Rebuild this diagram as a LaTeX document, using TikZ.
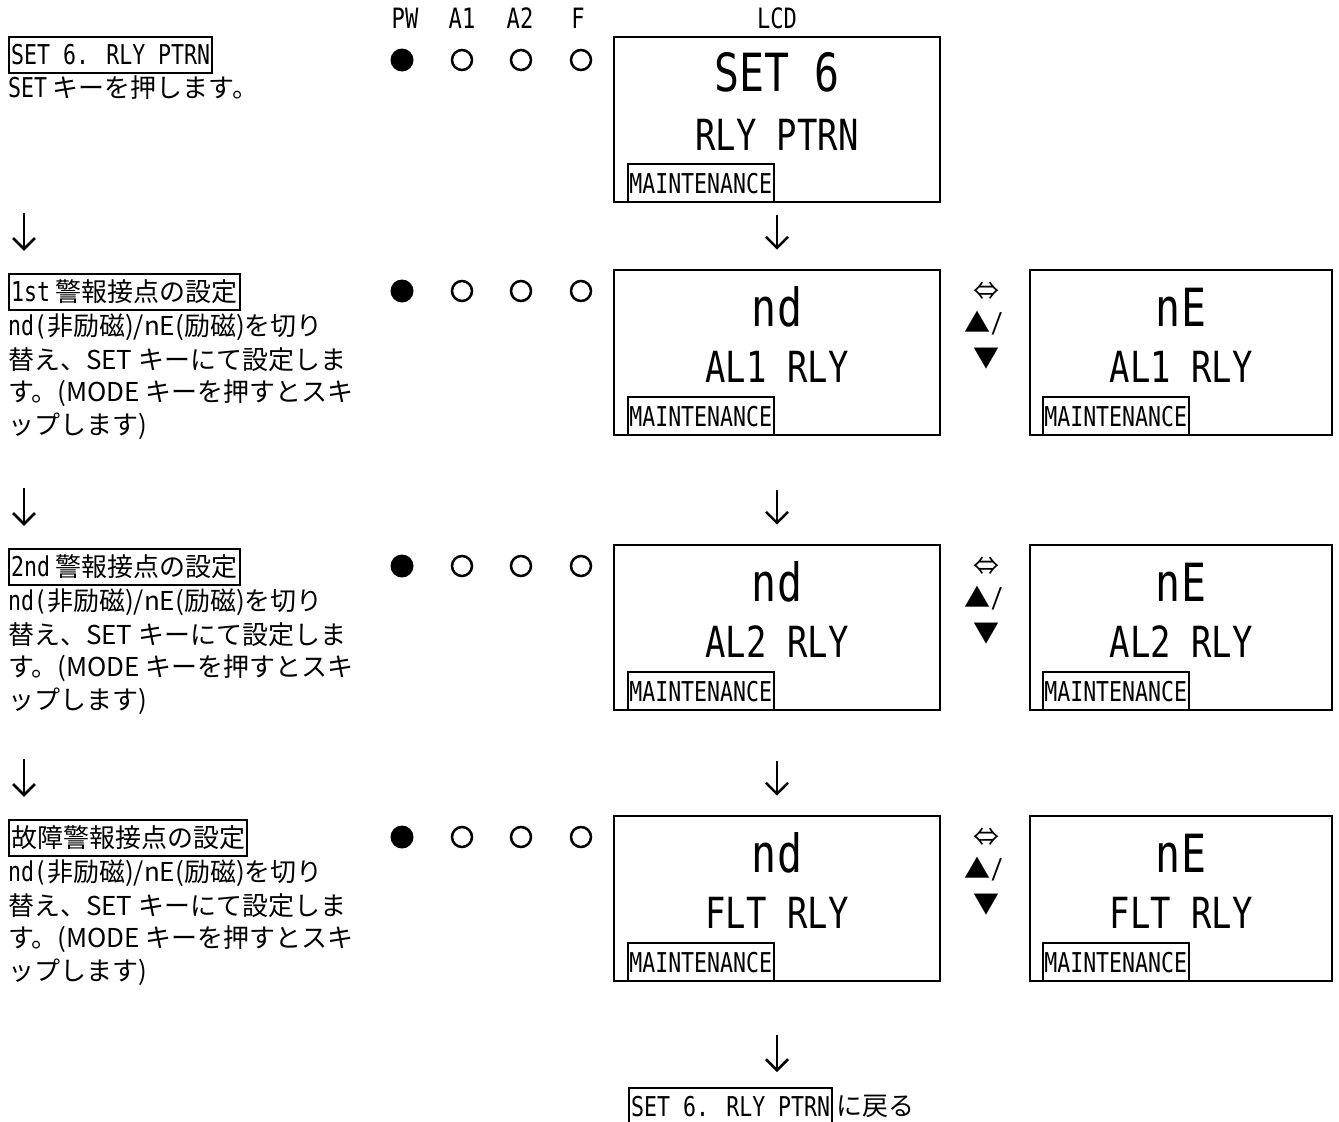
\documentclass[tikz,border=0pt]{standalone}
\usepackage{fontspec}
\setmainfont{DejaVu Sans Mono}[FakeStretch=0.79]
\newfontfamily\jp{Noto Sans CJK JP}[Scale=0.952]
\usetikzlibrary{arrows.meta,positioning,calc}

\begin{document}
\begin{tikzpicture}[x=1pt,y=-1pt,
  every node/.style={inner sep=0pt,font=\fontsize{27.3}{30}\selectfont},
  hdr/.style={font=\fontsize{28}{30}\selectfont},
  txt/.style={anchor=west},
  lbl/.style={draw,line width=2.2pt,anchor=west,inner xsep=2pt,minimum height=36pt},
  lcd/.style={draw,line width=2.6pt,minimum height=165pt},
  big/.style={font=\fontsize{52.6}{56}\selectfont},
  mid/.style={font=\fontsize{42.9}{46}\selectfont},
  tag/.style={draw,line width=2.2pt,anchor=south west,inner xsep=1.5pt,minimum height=38pt},
  arr/.style={line width=2.6pt,-{Straight Barb[length=11pt,width=22pt]}},
  ledon/.style={fill=black},
  ledoff/.style={draw=black,line width=2.5pt}]
\useasboundingbox (0,0) rectangle (1339,1122);

% lamps and LCD header
\foreach \x/\t in {405/PW,462/A1,520/A2,578/F,777/LCD}
  \node[hdr] (h\t) at (\x,18) {\t};

% SET 6 screen
\node[lbl] (lab1) at (8,55) {SET 6. RLY PTRN};
\node[txt] (t1-1) at (8,88) {SET\jp{ キーを押します。}};
\fill[ledon] (402,60) circle[radius=11.5pt];
\foreach \x in {462,521,581} \draw[ledoff] (\x,60) circle[radius=10pt];
\node[lcd,minimum width=326pt] (lcd1) at (777,119.5) {};
\node[big] (v1) at (777,72) {SET 6};
\node[mid] (n1) at (777,135) {RLY PTRN};
\node[tag] (m1) at ([xshift=14pt]lcd1.south west) {MAINTENANCE};

% relay rows: nd <-> nE
\foreach \i/\p/\top/\sh/\rly/\head in {
  2/1/270/12/AL1 RLY/{1st\jp{ 警報接点の設定}},
  3/2/545/54/AL2 RLY/{2nd\jp{ 警報接点の設定}},
  4/3/816/50/FLT RLY/{\jp{故障警報接点の設定}}}
{
  \node[lbl] (lab\i) at (8,\top+22) {\head};
  \node[txt] (t\i-1) at (8,\top+57) {nd(\jp{非励磁})/nE(\jp{励磁})\jp{を切り}};
  \node[txt] (t\i-2) at (8,\top+90) {\jp{替え、}SET\jp{ キーにて設定しま}};
  \node[txt] (t\i-3) at (8,\top+123) {\jp{す。}(MODE\jp{ キーを押すとスキ}};
  \node[txt] (t\i-4) at (8,\top+156) {\jp{ップします})};
  \coordinate (la\i) at (24,\top-57);
  \draw[arr,shorten >=22pt] (la\i) -- (la\i |- lab\i.north);
  \fill[ledon] (402,\top+21) circle[radius=11.5pt];
  \foreach \x in {462,521,581} \draw[ledoff] (\x,\top+21) circle[radius=10pt];
  \node[lcd,minimum width=326pt] (lcd\i) at (777,\top+82.5) {};
  \node[big] (v\i) at (777,\top+37) {nd};
  \node[mid] (n\i) at (777,\top+97) {\rly};
  \node[tag] (m\i) at ([xshift=14pt]lcd\i.south west) {MAINTENANCE};
  \draw[arr,shorten <=\sh pt,shorten >=19pt] (lcd\p.south) -- (lcd\i.north);
  \node[lcd,minimum width=302pt] (alt\i) at (1181,\top+82.5) {};
  \node[big] (va\i) at (1181,\top+37) {nE};
  \node[mid] (na\i) at (1181,\top+97) {\rly};
  \node[tag] (ma\i) at ([xshift=13pt]alt\i.south west) {MAINTENANCE};
  \node (sw\i) at (986,\top+21) {\jp ⇔};
  \node (up\i) at (984,\top+53) {{\jp ▲}/};
  \node (dn\i) at (986,\top+89) {\jp ▼};
}

% back to SET 6
\node[lbl,anchor=north west] (back) at (628,1087) {SET 6. RLY PTRN};
\node[txt] (backt) at ([xshift=3pt]back.east) {\jp{に戻る}};
\draw[arr,shorten <=53pt,shorten >=15pt] (lcd4.south) -- (lcd4.south |- back.north);
\end{tikzpicture}
\end{document}
